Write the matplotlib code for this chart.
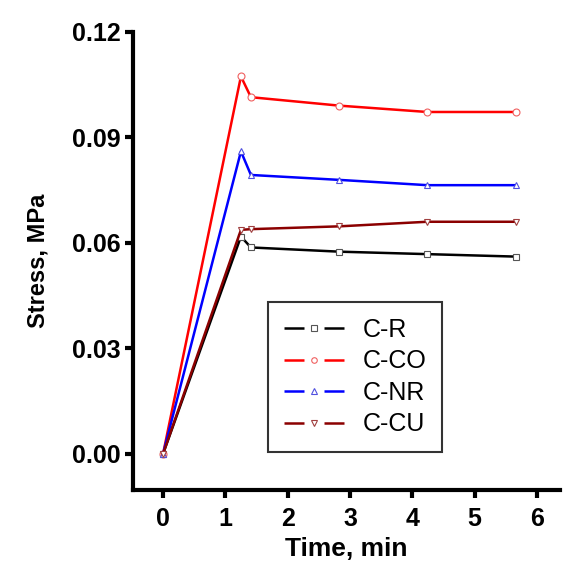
import matplotlib
matplotlib.use('Agg')
import matplotlib.pyplot as plt
from matplotlib.lines import Line2D

plt.rcParams['font.family'] = ['Liberation Sans', 'DejaVu Sans']

# datos
tiempo = [0, 1.25, 1.41, 2.83, 4.24, 5.66]
c_r = [0.0, 0.0618, 0.0587, 0.0575, 0.0568, 0.0561]
c_co = [0.0, 0.1073, 0.1014, 0.0990, 0.0972, 0.0972]
c_nr = [0.0, 0.0860, 0.0793, 0.0779, 0.0764, 0.0764]
c_cu = [0.0, 0.0637, 0.0639, 0.0647, 0.0660, 0.0660]

etiquetas = ['C-R', 'C-CO', 'C-NR', 'C-CU']
colores = ['black', 'red', 'blue', '#8b0000']
bordes = ['#555555', '#f06060', '#5050e0', '#a04040']
marcas = ['s', 'o', '^', 'v']
series = [c_r, c_co, c_nr, c_cu]

fig = plt.figure(figsize=(5.64, 5.67), dpi=100)
ax = fig.add_axes([0.236, 0.136, 0.757, 0.808])

manijas = []
for s, lab, c, b, m in zip(series, etiquetas, colores, bordes, marcas):
    ax.plot(tiempo, s, color=c, lw=1.8, marker=m, ms=5, mfc='white',
            mec=b, mew=0.8)
    # manija estilo Origin: linea - marca - linea
    lin = Line2D([], [], color=c, lw=1.8, dashes=(8, 8, 8, 100))
    mk = Line2D([], [], ls='none', marker=m, ms=4, mfc='white', mec=b, mew=0.8)
    manijas.append((lin, mk))

ax.set_xlim(-0.48, 6.37)
ax.set_ylim(-0.0102, 0.12)
ax.set_xticks(range(0, 7))
ax.set_yticks([0.0, 0.03, 0.06, 0.09, 0.12])
ax.set_yticklabels(['0.00', '0.03', '0.06', '0.09', '0.12'])

for lado in ['top', 'right']:
    ax.spines[lado].set_visible(False)
for lado in ['left', 'bottom']:
    ax.spines[lado].set_linewidth(3)

ax.tick_params(direction='out', length=6, width=3, labelsize=18, pad=3)
ax.tick_params(axis='x', pad=6)
for t in ax.get_xticklabels() + ax.get_yticklabels():
    t.set_fontweight('bold')

ax.set_xlabel('Time, min', fontsize=19, fontweight='bold', labelpad=5)
ax.set_ylabel('Stress, MPa', fontsize=17, fontweight='bold', labelpad=16)

leg = ax.legend(manijas, etiquetas, loc='lower left',
                bbox_to_anchor=(0.316, 0.083), borderaxespad=0, fontsize=18,
                frameon=True, fancybox=False, edgecolor='black',
                handlelength=2.4, borderpad=0.62, labelspacing=0.3,
                handletextpad=0.75)
leg.get_frame().set_linewidth(1.5)

fig.savefig('out.png', dpi=100)
